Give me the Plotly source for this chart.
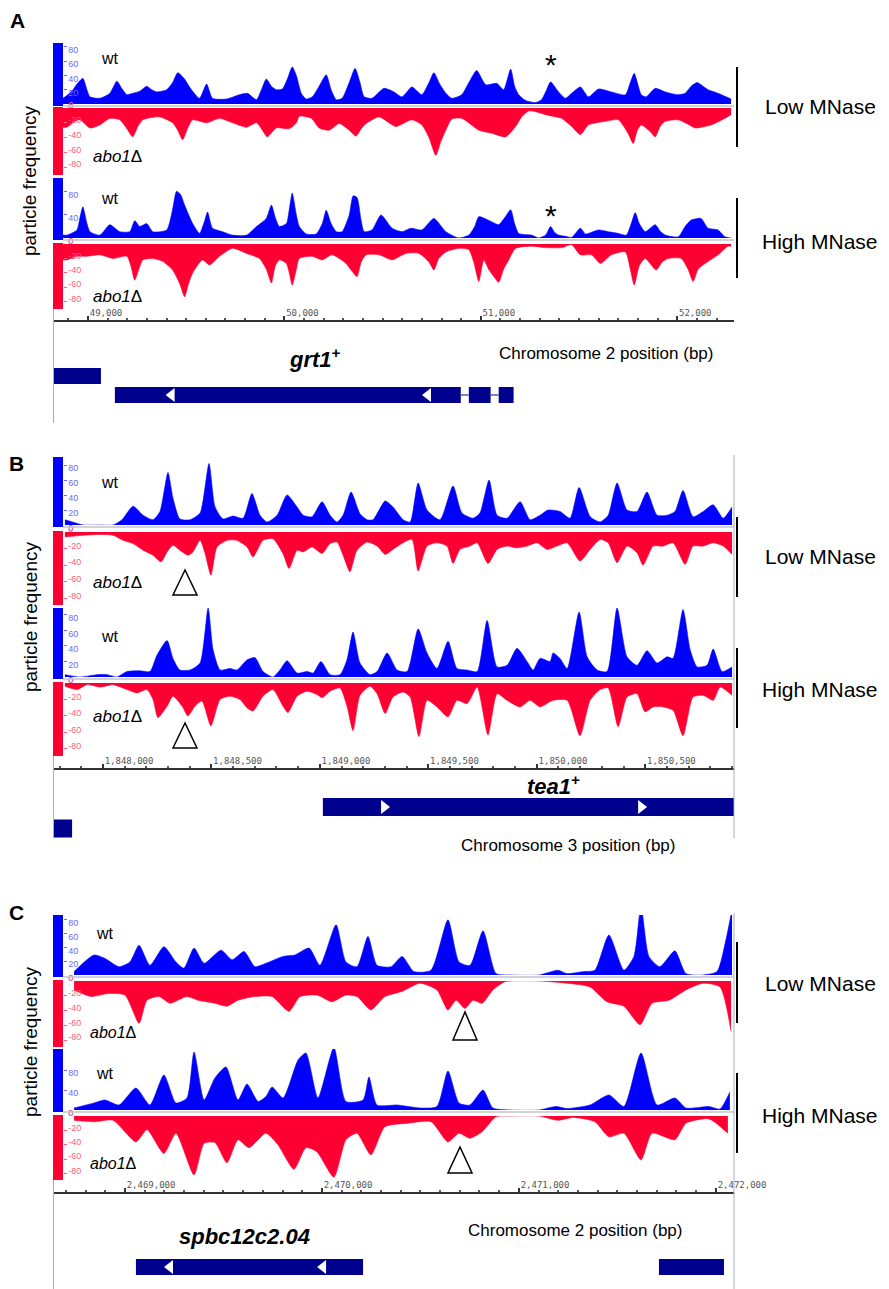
import plotly.graph_objects as go

W, H = 889, 1289
FONT = "Liberation Sans, Arial, sans-serif"
BLUE = "#0000ff"
RED = "#ff0033"
NAVY = "#00008f"
BLUE_TXT = "#6a6aff"
RED_TXT = "#ff5c80"

# ---------------- data: (genomic position bp, particle frequency) ----------------
A_LOW_WT = [(48873,8),(48893,12),(48924,20),(48944,28),(48974,36),(48995,20),(49010,10),(49061,8),(49111,15),(49147,32),(49172,22),(49198,13),(49228,15),(49264,18),(49299,25),(49325,20),(49350,17),(49401,20),(49431,30),(49457,44),(49492,35),(49517,24),(49568,8),(49604,28),(49634,8),(49705,7),(49771,13),(49812,15),(49858,6),(49883,20),(49908,35),(49934,25),(49959,20),(49990,21),(50015,35),(50040,52),(50061,40),(50086,15),(50111,7),(50142,10),(50177,25),(50213,41),(50238,20),(50264,6),(50294,8),(50330,30),(50360,50),(50385,30),(50406,10),(50446,8),(50507,22),(50558,17),(50599,10),(50649,24),(50700,13),(50736,30),(50761,44),(50791,28),(50822,15),(50852,8),(50903,13),(50939,30),(50979,47),(51025,27),(51081,29),(51116,20),(51152,49),(51172,25),(51193,13),(51228,5),(51279,2),(51309,6),(51335,20),(51355,31),(51396,17),(51431,8),(51462,15),(51507,24),(51548,10),(51599,21),(51665,17),(51736,13),(51761,30),(51781,43),(51802,25),(51817,13),(51842,10),(51888,22),(51939,17),(52005,13),(52040,15),(52071,25),(52101,30),(52157,20),(52208,15),(52274,7)]
A_LOW_KO = [(48873,26),(48893,26),(48934,18),(48959,16),(49010,27),(49061,23),(49111,14),(49162,16),(49198,28),(49228,39),(49254,25),(49279,16),(49365,12),(49431,20),(49457,30),(49482,43),(49507,28),(49533,16),(49604,20),(49670,14),(49736,20),(49807,26),(49858,20),(49888,30),(49913,39),(49959,27),(50025,28),(50061,20),(50076,11),(50137,14),(50177,27),(50228,30),(50279,21),(50330,30),(50365,38),(50391,28),(50416,21),(50482,12),(50568,25),(50649,16),(50700,23),(50736,40),(50771,64),(50797,45),(50822,30),(50852,15),(50903,14),(50990,30),(51055,34),(51127,39),(51177,25),(51208,12),(51243,4),(51279,5),(51330,9),(51411,14),(51462,25),(51507,36),(51548,23),(51634,18),(51700,16),(51751,35),(51776,48),(51797,30),(51817,23),(51863,32),(51888,39),(51913,25),(51939,18),(52005,16),(52055,22),(52091,27),(52172,23),(52243,14),(52274,9)]
A_HIGH_WT = [(48873,5),(48893,5),(48944,14),(48959,35),(48974,54),(48995,25),(49010,11),(49061,5),(49111,23),(49162,11),(49213,11),(49238,30),(49264,20),(49299,25),(49330,11),(49401,14),(49431,50),(49451,81),(49472,75),(49492,57),(49533,25),(49568,8),(49594,30),(49609,45),(49634,17),(49685,11),(49736,5),(49807,5),(49858,20),(49908,34),(49934,57),(49954,35),(49974,20),(50010,25),(50025,50),(50040,78),(50061,40),(50076,20),(50111,7),(50162,7),(50193,25),(50213,48),(50238,25),(50264,11),(50294,11),(50330,40),(50350,73),(50370,70),(50391,30),(50406,11),(50446,14),(50492,40),(50548,17),(50599,11),(50644,17),(50700,14),(50761,34),(50822,11),(50888,0),(50939,5),(50969,20),(50990,37),(51055,28),(51091,23),(51121,35),(51152,49),(51172,25),(51193,8),(51259,5),(51294,0),(51330,5),(51355,20),(51375,10),(51396,5),(51431,3),(51462,1),(51507,17),(51533,7),(51599,14),(51649,11),(51700,8),(51741,5),(51766,25),(51786,44),(51807,25),(51837,11),(51888,23),(51913,12),(51939,5),(52005,2),(52040,20),(52071,31),(52121,34),(52157,17),(52208,14),(52243,2),(52274,0)]
A_HIGH_KO = [(48873,22),(48893,22),(48944,17),(48995,17),(49061,15),(49127,20),(49198,17),(49218,30),(49238,50),(49259,35),(49279,22),(49330,20),(49380,24),(49431,36),(49467,55),(49492,73),(49512,55),(49533,40),(49583,22),(49619,29),(49670,17),(49736,6),(49807,13),(49873,20),(49908,35),(49934,54),(49954,30),(49974,22),(50010,27),(50025,40),(50040,57),(50061,35),(50076,20),(50142,17),(50193,22),(50243,15),(50314,27),(50345,38),(50370,45),(50391,25),(50416,15),(50482,15),(50548,22),(50619,13),(50685,13),(50736,25),(50761,36),(50786,20),(50822,11),(50888,6),(50939,8),(50964,25),(50990,52),(51015,22),(51040,35),(51066,45),(51091,53),(51116,35),(51142,22),(51177,6),(51259,3),(51330,5),(51411,5),(51462,1),(51507,15),(51563,15),(51609,27),(51665,15),(51736,11),(51761,35),(51781,57),(51807,30),(51837,20),(51893,36),(51923,25),(51954,20),(52020,20),(52055,35),(52081,52),(52106,35),(52142,27),(52208,15),(52258,3),(52274,3)]

B_LOW_WT = [(1847825,7),(1847871,3),(1847908,0),(1847987,0),(1848047,0),(1848088,7),(1848139,25),(1848185,13),(1848231,7),(1848263,18),(1848300,70),(1848323,36),(1848355,8),(1848402,7),(1848448,16),(1848489,82),(1848517,24),(1848554,8),(1848600,12),(1848646,9),(1848687,42),(1848724,13),(1848757,4),(1848803,13),(1848849,40),(1848895,24),(1848923,13),(1848964,11),(1849010,31),(1849047,13),(1849079,4),(1849107,13),(1849144,44),(1849185,15),(1849218,7),(1849245,7),(1849301,32),(1849337,24),(1849384,7),(1849416,4),(1849453,56),(1849494,20),(1849554,7),(1849614,52),(1849655,16),(1849706,9),(1849738,16),(1849780,60),(1849817,13),(1849863,9),(1849923,31),(1849969,7),(1850015,13),(1850052,20),(1850107,18),(1850153,9),(1850195,50),(1850246,11),(1850292,4),(1850329,13),(1850370,56),(1850416,20),(1850462,18),(1850508,44),(1850554,13),(1850601,13),(1850637,18),(1850674,46),(1850720,11),(1850767,18),(1850813,27),(1850859,9),(1850900,24)]
B_LOW_KO = [(1847825,6),(1847908,4),(1847987,3),(1848047,4),(1848093,10),(1848139,14),(1848185,22),(1848231,28),(1848268,36),(1848296,24),(1848323,16),(1848355,22),(1848392,28),(1848415,24),(1848448,10),(1848471,26),(1848498,52),(1848526,18),(1848572,10),(1848618,10),(1848664,18),(1848692,30),(1848738,10),(1848784,8),(1848830,26),(1848858,44),(1848895,22),(1848923,24),(1848964,18),(1849010,26),(1849047,14),(1849079,12),(1849107,28),(1849139,48),(1849171,22),(1849218,12),(1849264,17),(1849301,27),(1849337,21),(1849384,13),(1849425,9),(1849453,47),(1849494,17),(1849540,13),(1849586,17),(1849614,38),(1849646,21),(1849692,17),(1849725,13),(1849775,38),(1849817,21),(1849863,17),(1849909,19),(1849955,17),(1850001,13),(1850047,21),(1850093,17),(1850140,13),(1850199,35),(1850246,21),(1850292,9),(1850329,13),(1850370,37),(1850416,17),(1850462,25),(1850490,40),(1850536,17),(1850582,17),(1850628,13),(1850684,39),(1850720,17),(1850767,17),(1850813,13),(1850859,17),(1850900,27)]
B_HIGH_WT = [(1847825,3),(1847894,0),(1847973,3),(1848019,3),(1848065,0),(1848111,7),(1848171,8),(1848217,7),(1848249,28),(1848296,47),(1848323,24),(1848355,9),(1848402,9),(1848448,18),(1848485,89),(1848508,35),(1848540,9),(1848586,11),(1848618,9),(1848664,22),(1848701,25),(1848738,7),(1848784,0),(1848816,9),(1848849,21),(1848895,5),(1848941,7),(1848969,5),(1849005,20),(1849047,3),(1849093,3),(1849125,22),(1849153,58),(1849185,18),(1849231,3),(1849264,7),(1849310,31),(1849356,9),(1849402,7),(1849453,62),(1849494,31),(1849540,11),(1849591,46),(1849632,11),(1849679,9),(1849725,7),(1849771,73),(1849817,13),(1849863,15),(1849909,37),(1849955,20),(1849983,9),(1850015,24),(1850061,20),(1850075,31),(1850107,24),(1850140,11),(1850195,84),(1850232,26),(1850278,9),(1850324,7),(1850370,89),(1850416,26),(1850462,15),(1850508,34),(1850554,18),(1850601,26),(1850628,24),(1850674,87),(1850707,35),(1850739,13),(1850785,15),(1850813,36),(1850854,7),(1850900,13)]
B_HIGH_KO = [(1847825,4),(1847881,8),(1847927,2),(1847987,5),(1848047,2),(1848111,8),(1848157,12),(1848203,8),(1848231,20),(1848254,42),(1848296,28),(1848323,16),(1848365,28),(1848392,40),(1848425,28),(1848457,22),(1848498,52),(1848540,20),(1848586,16),(1848632,20),(1848664,30),(1848692,34),(1848738,16),(1848784,8),(1848830,28),(1848853,36),(1848895,16),(1848941,10),(1848987,14),(1849010,18),(1849047,10),(1849093,6),(1849125,28),(1849153,58),(1849185,15),(1849231,4),(1849264,13),(1849301,37),(1849337,17),(1849384,11),(1849416,17),(1849457,65),(1849494,21),(1849540,29),(1849591,41),(1849632,21),(1849679,25),(1849725,5),(1849775,63),(1849817,13),(1849863,21),(1849923,29),(1849969,21),(1850015,29),(1850075,21),(1850140,21),(1850199,64),(1850246,21),(1850292,8),(1850329,6),(1850375,53),(1850416,17),(1850462,13),(1850499,35),(1850536,29),(1850582,29),(1850628,33),(1850674,64),(1850720,17),(1850767,15),(1850813,21),(1850845,5),(1850900,15)]

C_LOW_WT = [(2468742,5),(2468843,29),(2468899,24),(2468970,12),(2469026,19),(2469072,43),(2469127,14),(2469198,41),(2469259,19),(2469300,10),(2469351,39),(2469402,17),(2469488,36),(2469544,22),(2469605,34),(2469660,12),(2469716,17),(2469803,27),(2469863,29),(2469935,39),(2469990,14),(2470072,73),(2470122,19),(2470178,12),(2470234,56),(2470280,14),(2470351,12),(2470407,27),(2470467,5),(2470554,7),(2470640,80),(2470696,19),(2470752,14),(2470818,64),(2470884,2),(2470955,0),(2471102,0),(2471198,7),(2471244,2),(2471330,5),(2471386,7),(2471457,58),(2471533,7),(2471584,27),(2471620,100),(2471660,27),(2471716,12),(2471792,35),(2471848,2),(2471934,0),(2472006,5),(2472051,51),(2472082,95)]
C_LOW_KO = [(2468742,12),(2468828,21),(2468914,17),(2469000,19),(2469072,57),(2469112,26),(2469173,21),(2469229,30),(2469315,21),(2469371,26),(2469457,30),(2469518,34),(2469574,26),(2469660,21),(2469747,21),(2469833,41),(2469889,21),(2469975,19),(2470051,28),(2470122,19),(2470178,21),(2470249,39),(2470320,21),(2470407,14),(2470498,3),(2470584,12),(2470640,39),(2470681,26),(2470726,37),(2470767,26),(2470813,30),(2470868,12),(2470929,1),(2471102,0),(2471244,3),(2471361,8),(2471447,28),(2471533,34),(2471615,59),(2471676,30),(2471762,26),(2471848,12),(2471934,3),(2472021,8),(2472077,68)]
C_HIGH_WT = [(2468742,4),(2468843,14),(2468899,20),(2468970,10),(2469056,44),(2469127,10),(2469198,70),(2469259,14),(2469315,24),(2469351,116),(2469402,20),(2469457,64),(2469513,86),(2469574,20),(2469620,52),(2469676,17),(2469716,27),(2469747,46),(2469803,24),(2469879,100),(2469919,114),(2469980,24),(2470061,125),(2470122,17),(2470209,20),(2470239,66),(2470280,10),(2470381,10),(2470498,4),(2470584,7),(2470640,78),(2470696,14),(2470752,10),(2470818,40),(2470868,4),(2470955,0),(2471102,0),(2471188,7),(2471244,3),(2471361,10),(2471457,30),(2471533,7),(2471620,114),(2471701,10),(2471792,24),(2471848,4),(2471965,7),(2472021,2),(2472071,36)]
C_HIGH_KO = [(2468742,6),(2468843,8),(2468940,6),(2469056,36),(2469112,19),(2469198,52),(2469259,24),(2469351,82),(2469402,38),(2469457,37),(2469518,65),(2469574,33),(2469630,44),(2469716,24),(2469777,40),(2469858,74),(2469919,44),(2469975,50),(2470061,85),(2470122,33),(2470178,24),(2470249,54),(2470320,15),(2470437,10),(2470554,8),(2470640,36),(2470696,24),(2470752,31),(2470813,22),(2470884,1),(2470955,0),(2471102,0),(2471198,6),(2471275,2),(2471386,8),(2471457,29),(2471533,24),(2471620,61),(2471676,24),(2471792,33),(2471848,10),(2471965,4),(2472061,24)]

# gene models: row, exons (start, end), strand arrow positions, strand
A_GENES = [dict(row=2, exons=[(48700, 49066)], arrows=[], strand="-"),
           dict(row=1, exons=[(49137, 50898), (50939, 51050), (51091, 51167)], arrows=[49426, 50731], strand="-")]
B_GENES = [dict(row=2, exons=[(1849014, 1851000)], arrows=[1849296, 1850481], strand="+"),
           dict(row=1, exons=[(1847700, 1847858)], arrows=[], strand="+")]
C_GENES = [dict(row=1, exons=[(2469056, 2470209)], arrows=[2469229, 2470006], strand="-"),
           dict(row=1, exons=[(2471711, 2472041)], arrows=[], strand="-")]

WT_TICKS_STD = [0, 20, 40, 60, 80]
WT_TICKS_WIDE = [0, 40, 80]
KO_TICKS = [0, 20, 40, 60, 80]

PANELS = [
    dict(label="A", xr=(48822, 52289), dtick=1000, genes=A_GENES,
         tracks=[(A_LOW_WT, A_LOW_KO), (A_HIGH_WT, A_HIGH_KO)]),
    dict(label="B", xr=(1847770, 1850909), dtick=500, genes=B_GENES,
         tracks=[(B_LOW_WT, B_LOW_KO), (B_HIGH_WT, B_HIGH_KO)]),
    dict(label="C", xr=(2468635, 2472092), dtick=1000, genes=C_GENES,
         tracks=[(C_LOW_WT, C_LOW_KO), (C_HIGH_WT, C_HIGH_KO)]),
]

# ---------------- geometry (pixels) ----------------
GEOMS = [
    dict(tracks=[dict(wt=(43, 104, 85.6, WT_TICKS_STD), ko=(108, 175, 90.5)),
                 dict(wt=(178, 238, 104, WT_TICKS_WIDE), ko=(244, 309, 90))],
         gene=(322, 423, (-0.474, 4.842))),
    dict(tracks=[dict(wt=(457, 525, 90.7, WT_TICKS_STD), ko=(532, 605, 88)),
                 dict(wt=(608, 677, 89, WT_TICKS_STD), ko=(683, 756, 88.5))],
         gene=(770, 840, (0.465, 3.721))),
    dict(tracks=[dict(wt=(915, 975, 87, WT_TICKS_STD), ko=(981, 1047, 89)),
                 dict(wt=(1049, 1110, 122, WT_TICKS_WIDE), ko=(1116, 1180, 89))],
         gene=(1194, 1289, (-0.158, 4.842))),
]


def fx(px):
    return px / W


def fy(py):
    return 1 - py / H


layout = dict(width=W, height=H, margin=dict(l=0, r=0, t=0, b=0, pad=0),
              paper_bgcolor="white", plot_bgcolor="white", showlegend=False,
              barmode="overlay")
traces = []
shapes = []
yi = 0
for pi, (panel, geom) in enumerate(zip(PANELS, GEOMS), start=1):
    xname = "x" if pi == 1 else f"x{pi}"
    xkey = "xaxis" if pi == 1 else f"xaxis{pi}"
    for (wt, ko), tg in zip(panel["tracks"], geom["tracks"]):
        for kind, series in (("wt", wt), ("ko", ko)):
            yi += 1
            yname = "y" if yi == 1 else f"y{yi}"
            ykey = "yaxis" if yi == 1 else f"yaxis{yi}"
            if kind == "wt":
                top, bot, vmax, ticks = tg["wt"]
                rng = [0, vmax]
                tv = ticks
                tt = [str(t) for t in ticks]
                col, tcol = BLUE, BLUE_TXT
                ys = [v for _, v in series]
                shift = 3
                shapes.append(dict(type="rect", xref="paper", yref="paper", x0=fx(53), x1=fx(63),
                                   y0=fy(bot + 2), y1=fy(top), fillcolor=BLUE, line=dict(width=0)))
                shapes.append(dict(type="line", xref="paper", yref="paper", x0=fx(63), x1=fx(734),
                                   y0=fy(bot + 2), y1=fy(bot + 2), line=dict(color="#c4c4c4", width=1.5)))
            else:
                top, bot, vmax = tg["ko"]
                rng = [-vmax, 0]
                tv = [-t for t in KO_TICKS]
                tt = ["0" if t == 0 else f"-{t}" for t in KO_TICKS]
                col, tcol = RED, RED_TXT
                ys = [-v for _, v in series]
                shift = -3
                shapes.append(dict(type="rect", xref="paper", yref="paper", x0=fx(53), x1=fx(63),
                                   y0=fy(bot), y1=fy(top - 1), fillcolor=RED, line=dict(width=0)))
            layout[ykey] = dict(domain=[fy(bot), fy(top)], range=rng, anchor="free", position=fx(63),
                                side="left", ticks="inside", ticklen=3, tickcolor=tcol, tickwidth=1,
                                tickvals=tv, ticktext=tt, ticklabelposition="inside",
                                ticklabeloverflow="allow", automargin=False, ticklabelshift=shift,
                                tickfont=dict(family=FONT, size=9, color=tcol),
                                showgrid=False, zeroline=False, showline=False, fixedrange=True)
            traces.append(go.Scatter(x=[p for p, _ in series], y=ys, xaxis=xname, yaxis=yname,
                                     mode="lines", line=dict(color=col, width=0.6, shape="spline", smoothing=0.6),
                                     fill="tozeroy", fillcolor=col, hoverinfo="skip"))
    # gene track
    yi += 1
    gname = f"y{yi}"
    gkey = f"yaxis{yi}"
    gtop, gbot, grange = geom["gene"]
    layout[gkey] = dict(domain=[fy(gbot), fy(gtop)], range=list(grange), anchor=xname,
                        showticklabels=False, ticks="", showgrid=False, zeroline=False,
                        showline=False, fixedrange=True, automargin=False)
    layout[xkey] = dict(domain=[fx(53), fx(734)], range=list(panel["xr"]), anchor=gname, side="top",
                        showline=True, linecolor="#333333", linewidth=2,
                        ticks="outside", ticklen=4, tickwidth=1.5, tickcolor="#333333",
                        dtick=panel["dtick"], tick0=0, tickformat=",d",
                        ticklabelposition="outside right", automargin=False,
                        tickfont=dict(family="DejaVu Sans Mono", size=9, color="#555555"),
                        minor=dict(dtick=100, ticks="outside", ticklen=2, tickcolor="#555555"),
                        showgrid=False, zeroline=False, fixedrange=True)
    for g in panel["genes"]:
        for s, e in g["exons"]:
            traces.append(go.Bar(y=[g["row"]], x=[e - s], base=[s], orientation="h", width=0.84,
                                 marker=dict(color=NAVY, line=dict(width=0)),
                                 xaxis=xname, yaxis=gname, hoverinfo="skip"))
        for (s1, e1), (s2, e2) in zip(g["exons"][:-1], g["exons"][1:]):
            traces.append(go.Scatter(x=[e1, s2], y=[g["row"], g["row"]], mode="lines",
                                     line=dict(color="#5a5ab0", width=1.5),
                                     xaxis=xname, yaxis=gname, hoverinfo="skip"))
        if g["arrows"]:
            sym = "triangle-left" if g["strand"] == "-" else "triangle-right"
            traces.append(go.Scatter(x=g["arrows"], y=[g["row"]] * len(g["arrows"]), mode="markers",
                                     marker=dict(symbol=sym, size=12, color="white", line=dict(width=0)),
                                     xaxis=xname, yaxis=gname, hoverinfo="skip"))

# ---------------- decorations ----------------
def vline(x, y0, y1, color, width):
    return dict(type="line", xref="paper", yref="paper", x0=fx(x), x1=fx(x), y0=fy(y0), y1=fy(y1),
                line=dict(color=color, width=width))


GRAY = "#a8acc0"
shapes += [vline(53.5, 309, 423, GRAY, 1), vline(53.5, 756, 838, GRAY, 1), vline(734, 455, 838, GRAY, 1),
           vline(53.5, 1180, 1289, GRAY, 1), vline(734, 913, 1289, GRAY, 1)]
for y0, y1 in [(67, 147), (198, 278), (517, 597), (648, 728), (942, 1023), (1073, 1153)]:
    shapes.append(vline(737, y0, y1, "black", 2))


def tri(cx, top, bot, half):
    return dict(type="path", xref="paper", yref="paper",
                path=f"M {fx(cx)} {fy(top)} L {fx(cx - half)} {fy(bot)} L {fx(cx + half)} {fy(bot)} Z",
                line=dict(color="black", width=1.5), fillcolor="white")


shapes += [tri(185, 570, 595, 12), tri(185, 723, 748, 12), tri(465, 1012, 1040, 12), tri(460, 1147, 1173, 12)]


def ann(text, x, y, size, **kw):
    d = dict(text=text, x=fx(x), y=fy(y), xref="paper", yref="paper", showarrow=False,
             xanchor="center", yanchor="middle", font=dict(family=FONT, size=size, color="black"))
    d.update(kw)
    return d


annotations = [
    ann("<b>A</b>", 17, 21, 21), ann("<b>B</b>", 16, 463, 21), ann("<b>C</b>", 16, 912, 21),
]
for cy in (181, 617, 1042):
    annotations.append(ann("particle frequency", 30, cy, 19, textangle=-90))
for x, y in [(110, 58), (110, 198), (110, 483), (110, 636), (105, 933), (105, 1073)]:
    annotations.append(ann("wt", x, y, 16))
for x, y, s in [(117, 157, 17), (117, 297, 17), (117, 582, 17), (117, 716, 17), (113, 1032, 16), (113, 1163, 16)]:
    annotations.append(ann("<i>abo1</i>Δ", x, y, s))
for y in (107, 557, 983):
    annotations.append(ann("Low MNase", 820, y, 21))
for y in (241, 689, 1115):
    annotations.append(ann("High MNase", 820, y, 21))
annotations += [ann("*", 551, 64, 30), ann("*", 551, 215, 30)]
annotations += [
    ann("<b><i>grt1</i><sup>+</sup></b>", 315, 358, 22),
    ann("<b><i>tea1</i><sup>+</sup></b>", 553, 785, 22),
    ann("<b><i>spbc12c2.04</i></b>", 244, 1236, 22),
    ann("Chromosome 2 position (bp)", 606, 354, 17),
    ann("Chromosome 3 position (bp)", 568, 845, 17),
    ann("Chromosome 2 position (bp)", 575, 1230, 17),
]

layout["shapes"] = shapes
layout["annotations"] = annotations

fig = go.Figure(data=traces, layout=layout)
fig.write_html(
    "out.html",
    config={"displayModeBar": False},
    post_script=("document.documentElement.style.margin='0';document.body.style.margin='0';"
                 "document.body.style.padding='0';document.documentElement.style.overflow='hidden';"
                 "document.body.style.overflow='hidden';"),
)
